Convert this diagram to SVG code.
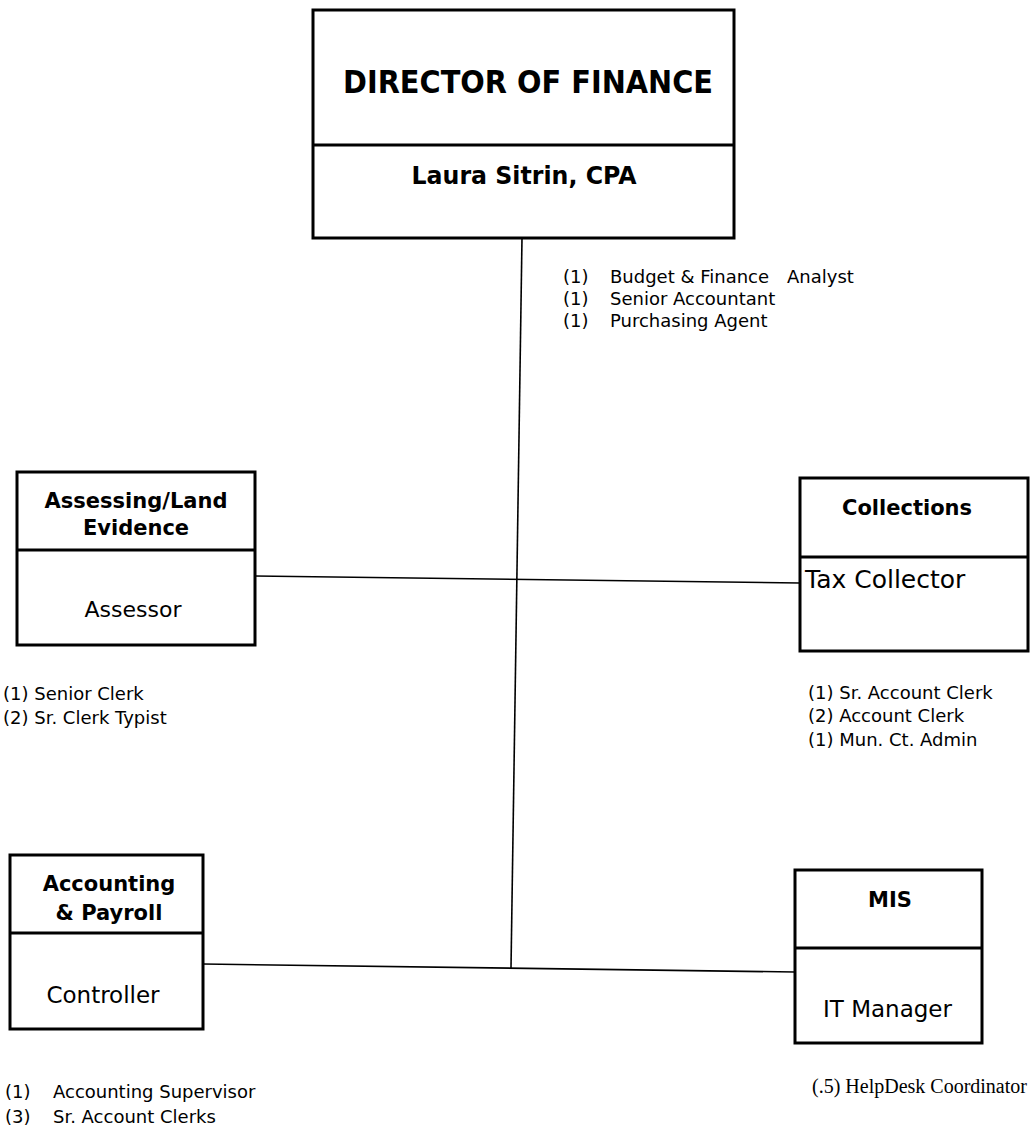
<svg xmlns="http://www.w3.org/2000/svg" width="1036" height="1130" viewBox="0 0 1036 1130">
<style>
.box{fill:#fff;stroke:#000;stroke-width:3}
.div{stroke:#000;stroke-width:3}
.conn{stroke:#000;stroke-width:1.6;fill:none}
.hb{font-family:"DejaVu Sans",Verdana,sans-serif;font-weight:bold;fill:#000;text-anchor:middle}
.nm{font-family:"DejaVu Sans",Verdana,sans-serif;fill:#000}
.st{font-family:"DejaVu Sans",Verdana,sans-serif;fill:#000;font-size:18px}
.tm{font-family:"Liberation Serif","Times New Roman",serif;fill:#000;font-size:20px}
</style>
<rect width="1036" height="1130" fill="#fff"/>
<g id="connectors">
<line class="conn" x1="522" y1="238" x2="511" y2="968"/>
<line class="conn" x1="255" y1="576" x2="800" y2="583"/>
<line class="conn" x1="203" y1="964" x2="795" y2="972"/>
</g>
<g id="director">
<rect class="box" x="313" y="10" width="421" height="228"/>
<line class="div" x1="313" y1="145" x2="734" y2="145"/>
<text class="hb" x="528" y="93" font-size="32" textLength="370" lengthAdjust="spacingAndGlyphs">DIRECTOR OF FINANCE</text>
<text class="hb" x="524" y="184" font-size="25" textLength="225" lengthAdjust="spacingAndGlyphs">Laura Sitrin, CPA</text>
</g>
<g id="director-staff" class="st">
<text x="563" y="283">(1)</text><text x="610" y="283">Budget &amp; Finance</text><text x="787" y="283">Analyst</text>
<text x="563" y="305">(1)</text><text x="610" y="305">Senior Accountant</text>
<text x="563" y="327">(1)</text><text x="610" y="327">Purchasing Agent</text>
</g>
<g id="assessing">
<rect class="box" x="17" y="472" width="238" height="173"/>
<line class="div" x1="17" y1="550" x2="255" y2="550"/>
<text class="hb" x="136" y="508" font-size="21">Assessing/Land</text>
<text class="hb" x="136" y="535" font-size="21">Evidence</text>
<text class="nm" x="133" y="617" font-size="22" text-anchor="middle">Assessor</text>
<text class="st" x="3" y="700" font-size="19">(1) Senior Clerk</text>
<text class="st" x="3" y="724" font-size="19">(2) Sr. Clerk Typist</text>
</g>
<g id="collections">
<rect class="box" x="800" y="478" width="228" height="173"/>
<line class="div" x1="800" y1="557" x2="1028" y2="557"/>
<text class="hb" x="907" y="515" font-size="21">Collections</text>
<text class="nm" x="805" y="588" font-size="25">Tax Collector</text>
<text class="st" x="808" y="699" font-size="19">(1) Sr. Account Clerk</text>
<text class="st" x="808" y="722" font-size="19">(2) Account Clerk</text>
<text class="st" x="808" y="746" font-size="19">(1) Mun. Ct. Admin</text>
</g>
<g id="accounting">
<rect class="box" x="10" y="855" width="193" height="174"/>
<line class="div" x1="10" y1="933" x2="203" y2="933"/>
<text class="hb" x="109" y="891" font-size="21">Accounting</text>
<text class="hb" x="109" y="920" font-size="21">&amp; Payroll</text>
<text class="nm" x="103" y="1003" font-size="23" text-anchor="middle">Controller</text>
<text class="st" x="5" y="1098">(1)</text><text class="st" x="53" y="1098">Accounting Supervisor</text>
<text class="st" x="5" y="1123">(3)</text><text class="st" x="53" y="1123">Sr. Account Clerks</text>
</g>
<g id="mis">
<rect class="box" x="795" y="870" width="187" height="173"/>
<line class="div" x1="795" y1="948" x2="982" y2="948"/>
<text class="hb" x="890" y="907" font-size="21">MIS</text>
<text class="nm" x="823" y="1017" font-size="23">IT Manager</text>
<text class="tm" x="812" y="1093">(.5) HelpDesk Coordinator</text>
</g>
</svg>
